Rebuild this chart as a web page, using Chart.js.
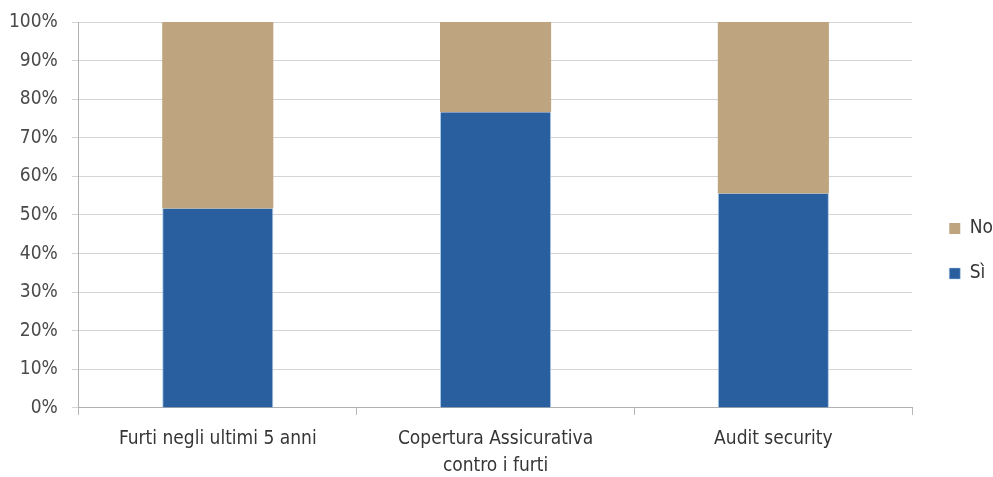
<!DOCTYPE html>
<html>
<head>
<meta charset="utf-8">
<script src="https://cdn.jsdelivr.net/npm/chart.js@4/dist/chart.umd.min.js"></script>
<style>
  html, body { margin: 0; padding: 0; background: #ffffff; }
  #wrap { width: 993px; height: 477px; position: relative; }
</style>
</head>
<body>
<div id="wrap"><canvas id="chart" width="993" height="477"></canvas></div>
<script>
// Survey answers, share of respondents (%)
const categories = [
  'Furti negli ultimi 5 anni',
  ['Copertura Assicurativa', 'contro i furti'],
  'Audit security'
];
const siValues = [51.7, 76.6, 55.6];
const noValues = [48.3, 23.4, 44.4];
const yTicks = [0, 10, 20, 30, 40, 50, 60, 70, 80, 90, 100];

const FONT = "'Liberation Sans Narrow', 'DejaVu Sans Condensed', 'Arial Narrow', sans-serif";

new Chart(document.getElementById('chart'), {
  type: 'bar',
  data: {
    labels: categories,
    datasets: [
      {
        label: 'Sì',
        data: siValues,
        backgroundColor: '#2a5f9f',
        borderColor: '#a9c8e6',
        borderWidth: { left: 1, right: 1, top: 0, bottom: 0 },
        borderSkipped: false,
        barPercentage: 0.4,
        categoryPercentage: 1.0
      },
      {
        label: 'No',
        data: noValues,
        backgroundColor: '#bea57f',
        borderWidth: 0,
        barPercentage: 0.4,
        categoryPercentage: 1.0
      }
    ]
  },
  options: {
    responsive: false,
    animation: false,
    layout: { padding: { top: 12, left: -5, right: -10, bottom: -13 } },
    scales: {
      x: {
        stacked: true,
        grid: {
          display: true,
          offset: true,
          drawOnChartArea: false,
          drawTicks: true,
          tickLength: 7,
          color: '#b8b8b8'
        },
        border: { display: true, color: '#b0b0b0', width: 1 },
        ticks: {
          color: '#353535',
          font: { family: FONT, size: 19, lineHeight: 1.45 },
          padding: 10,
          maxRotation: 0,
          autoSkip: false
        }
      },
      y: {
        stacked: true,
        min: 0,
        max: 100,
        afterBuildTicks: (axis) => { axis.ticks = yTicks.map(v => ({ value: v })); },
        grid: {
          color: '#d4d4d4',
          tickLength: 7,
          drawTicks: true
        },
        border: { display: true, color: '#b0b0b0', width: 1 },
        ticks: {
          color: '#4a4a4a',
          font: { family: FONT, size: 19, lineHeight: 0.85 },
          padding: 14,
          callback: (v) => v + '%'
        }
      },
      // empty spacer between plot area and legend
      gap: {
        position: 'right',
        display: true,
        grid: { display: false },
        border: { display: false },
        ticks: { display: false },
        afterFit: (scale) => { scale.width = 11; }
      }
    },
    plugins: {
      legend: {
        position: 'right',
        align: 'center',
        reverse: true,
        maxHeight: 456,
        labels: {
          color: '#353535',
          font: { family: FONT, size: 19 },
          boxWidth: 11,
          boxHeight: 11,
          padding: 26
        }
      },
      tooltip: { enabled: false }
    }
  }
});
</script>
</body>
</html>
